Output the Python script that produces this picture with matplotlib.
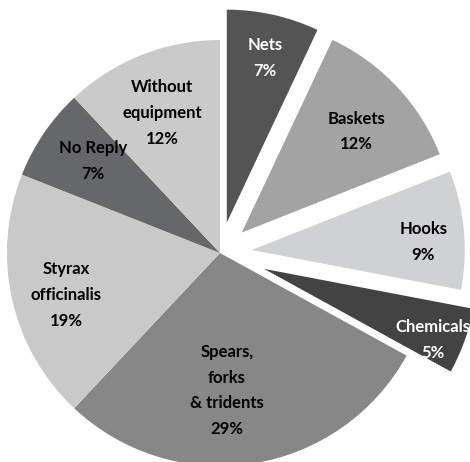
import numpy as np
import matplotlib.pyplot as plt

plt.rcParams['font.family'] = ['Lato', 'DejaVu Sans']

# Fishing equipment survey shares (percent)
labels = ['Nets', 'Baskets', 'Hooks', 'Chemicals', 'Spears,\nforks\n& tridents',
          'Styrax\nofficinalis', 'No Reply', 'Without\nequipment']
shares = [7, 12, 9, 5, 29, 19, 7, 12]
explode = [0.146, 0.14, 0.15, 0.22, 0, 0, 0, 0]
colors = ['#545454', '#a3a3a3', '#d0d1d3', '#434343', '#878787',
          '#c9c9c9', '#666769', '#cacaca']
text_colors = ['white', 'black', 'black', 'white', 'black', 'black', 'black', 'black']

# label centres, in pie-radius units from the pie centre
label_pos = [(0.21, 0.915), (0.64, 0.57), (0.955, 0.05), (1.0, -0.41),
             (0.033, -0.645), (-0.723, -0.197), (-0.596, 0.432), (-0.272, 0.657)]

W, H = 470, 462
R = 213.0
cx, cy = 220.0, 253.0

fig = plt.figure(figsize=(W / 100, H / 100), dpi=100)
ax = fig.add_axes([0, 0, 1, 1])

wedges, _ = ax.pie(shares, explode=explode, colors=colors, startangle=90,
                   counterclock=False, radius=1.0,
                   wedgeprops=dict(linewidth=0))

for lab, val, (lx, ly), tc in zip(labels, shares, label_pos, text_colors):
    ax.text(lx, ly, f'{lab}\n{val}%', ha='center', va='center',
            fontsize=12, fontweight='bold', color=tc, linespacing=1.75)

ax.set_xlim(-cx / R, (W - cx) / R)
ax.set_ylim(-(H - cy) / R, cy / R)
ax.set_aspect('auto')
ax.axis('off')

fig.savefig('out.png', dpi=100)
